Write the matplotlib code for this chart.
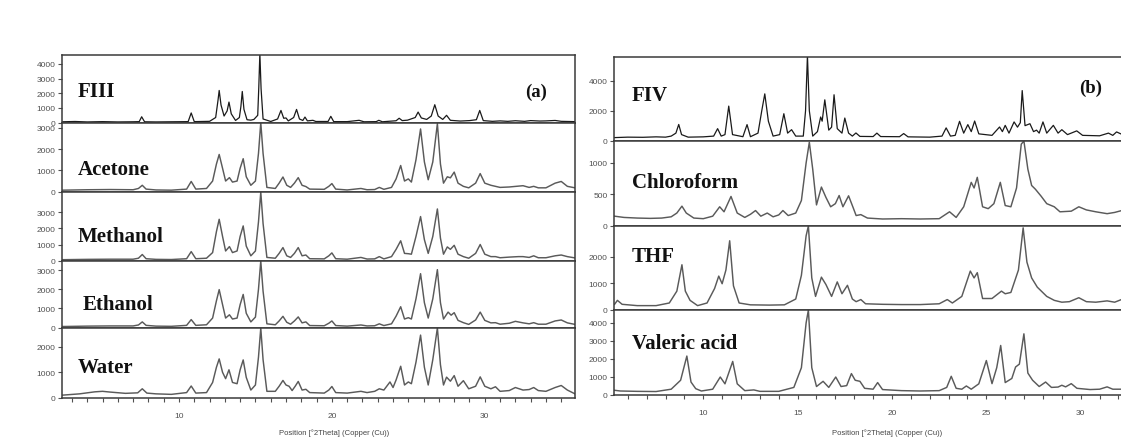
import matplotlib.pyplot as plt
from matplotlib.ticker import MultipleLocator

# ---- data: (2theta, counts) vertices of each pattern ----
fiii = [(2.4,60),(3.2,80),(4.0,50),(5.0,70),(6.0,50),(7.0,60),(7.4,70),(7.56,400),(7.75,60),(8.5,50),(9.5,60),
        (10.6,70),(10.8,660),(11.0,70),(12.0,90),(12.4,350),(12.55,1500),(12.63,2190),(12.75,1200),(12.95,450),
        (13.15,800),(13.27,1400),(13.42,600),(13.7,150),(13.95,350),(14.05,1100),(14.14,2120),(14.25,900),
        (14.45,200),(14.7,170),(14.9,220),(15.15,500),(15.22,2400),(15.29,4700),(15.37,2300),(15.5,250),
        (16.0,80),(16.45,250),(16.67,830),(16.85,300),(17.0,320),(17.15,120),(17.5,350),(17.69,900),(17.88,250),
        (18.1,150),(18.24,380),(18.4,120),(18.76,160),(18.95,80),(19.75,80),(19.93,430),(20.12,70),(21.0,70),
        (21.78,160),(22.1,60),(22.9,70),(23.07,160),(23.3,60),(24.2,130),(24.4,300),(24.6,140),(24.95,170),
        (25.2,260),(25.45,350),(25.64,720),(25.85,320),(26.2,220),(26.5,450),(26.73,1220),(26.95,450),
        (27.25,220),(27.5,500),(27.75,160),(28.4,110),(29.0,140),(29.45,200),(29.67,830),(29.9,140),(30.5,90),
        (31.0,120),(31.5,90),(32.0,130),(32.6,90),(33.0,140),(33.6,110),(34.0,120),(34.6,150),(35.0,90),(35.9,70)]

acetone = [(2.4,70),(4.0,90),(5.5,100),(7.0,90),(7.35,150),(7.6,300),(7.85,120),(8.5,80),(9.5,70),(10.5,120),
           (10.8,480),(11.1,120),(11.8,150),(12.2,500),(12.45,1300),(12.63,1750),(12.85,1100),(13.05,500),
           (13.3,660),(13.5,450),(13.8,500),(14.0,1100),(14.2,1550),(14.4,700),(14.7,300),(15.0,500),(15.2,1800),
           (15.35,3250),(15.5,1800),(15.75,200),(16.3,150),(16.55,400),(16.8,690),(17.05,300),(17.3,200),
           (17.55,400),(17.8,660),(18.05,300),(18.3,240),(18.55,120),(19.5,110),(19.8,250),(20.0,380),(20.25,120),
           (21.0,80),(21.9,150),(22.3,90),(22.8,100),(23.1,200),(23.4,110),(23.9,200),(24.2,600),(24.5,1230),
           (24.75,500),(25.0,600),(25.2,450),(25.5,1500),(25.8,2950),(26.05,1400),(26.3,560),(26.6,1400),
           (26.9,3200),(27.1,1300),(27.3,400),(27.55,700),(27.75,650),(28.0,920),(28.25,400),(28.6,250),
           (28.95,180),(29.4,400),(29.7,850),(30.0,400),(30.4,300),(30.7,250),(31.0,200),(31.6,220),(32.2,260),
           (32.5,280),(32.9,200),(33.2,250),(33.5,180),(34.0,180),(34.6,400),(35.0,480),(35.4,250),(35.9,180)]

methanol = [(2.4,60),(4.0,80),(5.5,90),(7.0,90),(7.35,150),(7.6,380),(7.85,120),(8.5,80),(9.5,70),(10.5,120),
            (10.8,560),(11.1,120),(11.8,150),(12.2,500),(12.45,1800),(12.63,2560),(12.85,1500),(13.05,600),
            (13.3,870),(13.5,500),(13.8,600),(14.0,1500),(14.2,2150),(14.4,900),(14.7,300),(15.0,600),
            (15.2,2400),(15.35,4250),(15.5,2300),(15.75,200),(16.3,150),(16.55,450),(16.8,810),(17.05,300),
            (17.3,200),(17.55,450),(17.8,810),(18.05,300),(18.3,350),(18.55,120),(19.5,110),(19.8,300),(20.0,480),
            (20.25,120),(21.0,90),(21.9,200),(22.3,100),(22.8,110),(23.1,250),(23.4,110),(23.9,250),(24.2,700),
            (24.5,1230),(24.75,450),(25.0,430),(25.2,400),(25.5,1500),(25.8,2730),(26.05,1300),(26.3,450),
            (26.6,1500),(26.9,3200),(27.1,1400),(27.3,400),(27.55,850),(27.75,700),(28.0,950),(28.25,400),
            (28.6,250),(28.95,150),(29.4,450),(29.7,1000),(30.0,400),(30.4,250),(30.7,250),(31.0,180),(31.6,220),
            (32.2,250),(32.5,250),(32.9,200),(33.2,300),(33.5,180),(34.0,180),(34.6,300),(35.0,350),(35.4,250),
            (35.9,170)]

ethanol = [(2.4,60),(4.0,80),(5.5,90),(7.0,90),(7.35,140),(7.6,300),(7.85,120),(8.5,80),(9.5,70),(10.5,120),
           (10.8,420),(11.1,120),(11.8,150),(12.2,500),(12.45,1400),(12.63,1980),(12.85,1200),(13.05,500),
           (13.3,670),(13.5,450),(13.8,500),(14.0,1200),(14.2,1730),(14.4,750),(14.7,300),(15.0,550),
           (15.2,2000),(15.35,3470),(15.5,1900),(15.75,200),(16.3,150),(16.55,350),(16.8,590),(17.05,280),
           (17.3,180),(17.55,350),(17.8,560),(18.05,250),(18.3,300),(18.55,110),(19.5,100),(19.8,230),(20.0,350),
           (20.25,110),(21.0,80),(21.9,140),(22.3,90),(22.8,100),(23.1,200),(23.4,110),(23.9,200),(24.2,600),
           (24.5,1090),(24.75,450),(25.0,520),(25.2,450),(25.5,1500),(25.8,2810),(26.05,1300),(26.3,500),
           (26.6,1500),(26.9,3020),(27.1,1300),(27.3,450),(27.6,810),(27.8,650),(28.0,780),(28.25,380),
           (28.6,260),(28.95,170),(29.4,400),(29.7,810),(30.0,380),(30.4,250),(30.7,260),(31.0,180),(31.6,230),
           (32.0,330),(32.5,250),(32.9,200),(33.2,260),(33.5,180),(34.0,180),(34.6,350),(35.0,400),(35.4,250),
           (35.9,170)]

water = [(2.4,100),(3.5,150),(4.5,230),(5.0,250),(5.5,220),(6.5,170),(7.3,190),(7.6,350),(7.9,180),(8.5,150),
         (9.5,130),(10.5,200),(10.8,460),(11.1,180),(11.8,200),(12.2,600),(12.45,1200),(12.63,1530),(12.85,1000),
         (13.05,750),(13.27,1100),(13.5,600),(13.8,550),(14.0,1100),(14.2,1490),(14.4,800),(14.7,300),(15.0,500),
         (15.2,1600),(15.35,2750),(15.5,1500),(15.75,250),(16.3,250),(16.55,450),(16.8,680),(17.0,500),
         (17.2,450),(17.4,280),(17.6,450),(17.8,640),(18.05,300),(18.3,330),(18.55,200),(19.5,180),(19.8,300),
         (20.0,440),(20.25,200),(21.0,180),(21.9,250),(22.3,200),(22.8,250),(23.1,350),(23.4,300),(23.8,620),
         (24.0,400),(24.2,700),(24.5,1240),(24.75,500),(25.0,620),(25.2,550),(25.5,1400),(25.8,2470),
         (26.05,1200),(26.3,500),(26.6,1500),(26.9,2750),(27.1,1300),(27.3,500),(27.5,810),(27.75,650),
         (28.0,870),(28.25,450),(28.6,670),(28.95,350),(29.4,450),(29.7,820),(30.0,450),(30.4,350),(30.7,430),
         (31.0,250),(31.6,280),(32.0,400),(32.5,300),(32.9,320),(33.2,400),(33.5,280),(34.0,250),(34.6,400),
         (35.0,480),(35.4,300),(35.9,150)]

fiv = [(5.3,200),(6.0,230),(6.8,220),(7.5,250),(8.0,230),(8.3,300),(8.55,500),(8.7,1080),(8.85,400),(9.2,230),
       (10.0,250),(10.55,300),(10.76,800),(10.95,300),(11.15,400),(11.35,2310),(11.55,400),(12.1,260),
       (12.32,1070),(12.5,260),(12.9,500),(13.1,2000),(13.26,3130),(13.45,1300),(13.7,300),(14.05,400),
       (14.27,1800),(14.47,500),(14.68,730),(14.9,300),(15.3,300),(15.42,2000),(15.52,5700),(15.62,2000),
       (15.8,300),(16.05,600),(16.22,1580),(16.3,1300),(16.44,2730),(16.65,700),(16.8,900),(16.93,3070),
       (17.1,800),(17.35,500),(17.5,1510),(17.7,500),(17.9,300),(18.09,510),(18.3,280),(19.0,270),(19.2,500),
       (19.4,270),(20.4,260),(20.62,470),(20.85,250),(22.0,230),(22.65,300),(22.87,850),(23.1,300),(23.35,350),
       (23.58,1290),(23.8,500),(24.02,1070),(24.2,600),(24.38,1310),(24.6,450),(25.3,350),(25.7,910),
       (25.85,600),(26.0,1020),(26.2,500),(26.47,1250),(26.65,900),(26.8,1200),(26.9,3350),(27.05,1000),
       (27.31,1130),(27.5,600),(27.66,700),(27.8,500),(28.0,1250),(28.2,500),(28.55,1020),(28.8,500),
       (29.0,730),(29.3,400),(29.79,650),(30.1,350),(31.0,320),(31.47,500),(31.7,350),(31.9,580),(32.3,350)]

chloroform = [(5.3,150),(5.8,130),(6.5,120),(7.2,115),(7.8,120),(8.3,140),(8.6,200),(8.87,310),(9.1,200),
              (9.5,120),(10.0,110),(10.5,150),(10.87,300),(11.1,220),(11.47,465),(11.8,200),(12.2,130),
              (12.5,180),(12.77,240),(13.05,150),(13.39,200),(13.7,140),(14.0,170),(14.22,240),(14.5,160),
              (14.9,200),(15.2,400),(15.45,1000),(15.62,1330),(15.8,900),(16.0,330),(16.26,615),(16.5,450),
              (16.75,300),(17.0,350),(17.2,480),(17.4,300),(17.7,475),(17.95,280),(18.1,160),(18.35,175),
              (18.7,120),(19.5,105),(20.5,110),(21.5,105),(22.5,110),(23.05,220),(23.4,130),(23.8,300),
              (24.2,690),(24.35,600),(24.52,770),(24.8,300),(25.1,270),(25.4,350),(25.74,690),(26.0,320),
              (26.3,300),(26.6,600),(26.85,1300),(26.99,1350),(27.2,900),(27.4,640),(27.6,580),(27.9,470),
              (28.2,350),(28.6,300),(28.9,220),(29.5,230),(29.9,300),(30.3,250),(30.8,220),(31.4,190),
              (31.8,210),(32.3,250)]

thf = [(5.3,200),(5.45,350),(5.7,200),(6.5,150),(7.5,150),(8.2,250),(8.6,700),(8.87,1700),(9.05,700),
       (9.3,350),(9.7,150),(10.2,250),(10.6,800),(10.82,1270),(11.0,980),(11.2,1500),(11.4,2610),(11.6,900),
       (11.9,250),(12.5,180),(13.5,170),(14.3,180),(14.9,400),(15.2,1300),(15.45,2800),(15.57,3170),
       (15.75,1200),(15.95,500),(16.26,1230),(16.5,950),(16.8,500),(17.1,1050),(17.35,600),(17.64,920),
       (17.9,400),(18.1,300),(18.35,380),(18.6,220),(19.5,200),(20.5,190),(21.5,190),(22.5,220),(22.93,380),
       (23.2,250),(23.7,500),(24.15,1460),(24.35,1200),(24.52,1400),(24.8,420),(25.3,420),(25.8,700),
       (26.0,600),(26.3,650),(26.7,1500),(26.95,3100),(27.15,1800),(27.4,1200),(27.7,850),(28.2,500),
       (28.6,350),(29.0,280),(29.4,300),(29.9,450),(30.3,300),(30.8,280),(31.4,330),(31.8,280),(32.3,420)]

valeric = [(5.3,240),(5.6,200),(6.5,180),(7.5,170),(8.3,300),(8.8,800),(9.13,2150),(9.35,700),(9.6,330),
           (9.9,200),(10.5,300),(10.9,980),(11.15,600),(11.56,1850),(11.8,600),(12.2,220),(12.68,260),
           (13.0,180),(14.0,180),(14.8,400),(15.2,1500),(15.45,4000),(15.57,4720),(15.75,1500),(16.0,450),
           (16.35,740),(16.65,400),(17.02,980),(17.3,450),(17.6,500),(17.85,1170),(18.05,800),(18.3,740),
           (18.55,350),(19.0,300),(19.24,670),(19.5,280),(20.5,220),(21.5,200),(22.5,220),(22.9,400),
           (23.14,1020),(23.4,350),(23.7,300),(23.94,480),(24.2,300),(24.6,600),(25.0,1900),(25.3,610),
           (25.55,1500),(25.76,2740),(26.0,670),(26.35,900),(26.55,1540),(26.75,1700),(26.99,3390),(27.2,1200),
           (27.45,800),(27.8,450),(28.14,700),(28.45,400),(28.8,420),(29.0,520),(29.2,430),(29.5,610),
           (29.8,350),(30.5,280),(31.0,300),(31.4,430),(31.7,300),(32.3,300)]

names_a = ['FIII', 'Acetone', 'Methanol', 'Ethanol', 'Water']
data_a = [fiii, acetone, methanol, ethanol, water]
ymax_a = [4600, 3230, 4250, 3470, 2750]
yticks_a = [[0, 1000, 2000, 3000, 4000], [0, 1000, 2000, 3000], [0, 1000, 2000, 3000],
            [0, 1000, 2000, 3000], [0, 1000, 2000]]

names_b = ['FIV', 'Chloroform', 'THF', 'Valeric acid']
data_b = [fiv, chloroform, thf, valeric]
ymax_b = [5600, 1350, 3170, 4720]
yticks_b = [[0, 2000, 4000], [0, 500, 1000], [0, 1000, 2000], [0, 1000, 2000, 3000, 4000]]

W, H = 1121, 439
fig = plt.figure(figsize=(W / 100, H / 100), dpi=100)
fig.patch.set_facecolor('white')

serif = 'Liberation Serif'
sans = 'Liberation Sans'
grey = '#505050'


def stack(left, right, edges, names, data, ymax, yticks, xlim, xmajor, label_pos, tag, tag_pos, xlabel_x):
    axes = []
    for i, name in enumerate(names):
        top, bot = edges[i], edges[i + 1]
        ax = fig.add_axes([left / W, 1 - bot / H, (right - left) / W, (bot - top) / H])
        xs = [p[0] for p in data[i]]
        ys = [p[1] for p in data[i]]
        col = '#1a1a1a' if i == 0 else '#5a5a5a'
        ax.plot(xs, ys, color=col, linewidth=0.9 if i == 0 else 1.05,
                solid_joinstyle='round', antialiased=True)
        ax.set_xlim(*xlim)
        ax.set_ylim(-ymax[i] * 0.005, ymax[i])
        ax.set_yticks(yticks[i])
        ax.tick_params(axis='y', labelsize=6, labelcolor=grey, color=grey, length=3, width=0.8, pad=1.5)
        for t in ax.get_yticklabels():
            t.set_family(sans)
        for s in ax.spines.values():
            s.set_color('#3a3a3a')
            s.set_linewidth(1.1)
        ax.text(label_pos[i][0], label_pos[i][1], name, transform=ax.transAxes, family=serif,
                fontweight='bold', fontsize=15, va='center', ha='left', color='#111111')
        if i == len(names) - 1:
            ax.set_xticks(xmajor)
            ax.xaxis.set_minor_locator(MultipleLocator(1))
            ax.set_xticklabels([str(v) for v in xmajor])
            ax.tick_params(axis='x', which='both', labelsize=6, labelcolor=grey, color=grey,
                           length=3, width=0.8, pad=7)
            for t in ax.get_xticklabels():
                t.set_family(sans)
        else:
            ax.set_xticks([])
        axes.append(ax)
    axes[0].text(tag_pos[0], tag_pos[1], tag, transform=axes[0].transAxes, family=serif,
                 fontweight='bold', fontsize=13.5, va='center', ha='center', color='#111111')
    fig.text(xlabel_x / W, 1 - 433 / H, 'Position [°2Theta] (Copper (Cu))', ha='center', va='center',
             fontsize=5.5, color='#444444', family=sans)
    return axes


stack(62, 575, [56, 124, 193, 262, 329, 399], names_a, data_a, ymax_a, yticks_a, (2.35, 35.9), [10, 20, 30],
      [(0.03, 0.47), (0.03, 0.33), (0.03, 0.36), (0.04, 0.36), (0.03, 0.44)], '(a)', (0.925, 0.46), 334)

stack(614, 1126, [58, 142, 227, 311, 396], names_b, data_b, ymax_b, yticks_b, (5.27, 32.4), [10, 15, 20, 25, 30],
      [(0.035, 0.55), (0.035, 0.52), (0.035, 0.64), (0.035, 0.61)], '(b)', (0.93, 0.64), 887)

plt.savefig('out.png', dpi=100)
